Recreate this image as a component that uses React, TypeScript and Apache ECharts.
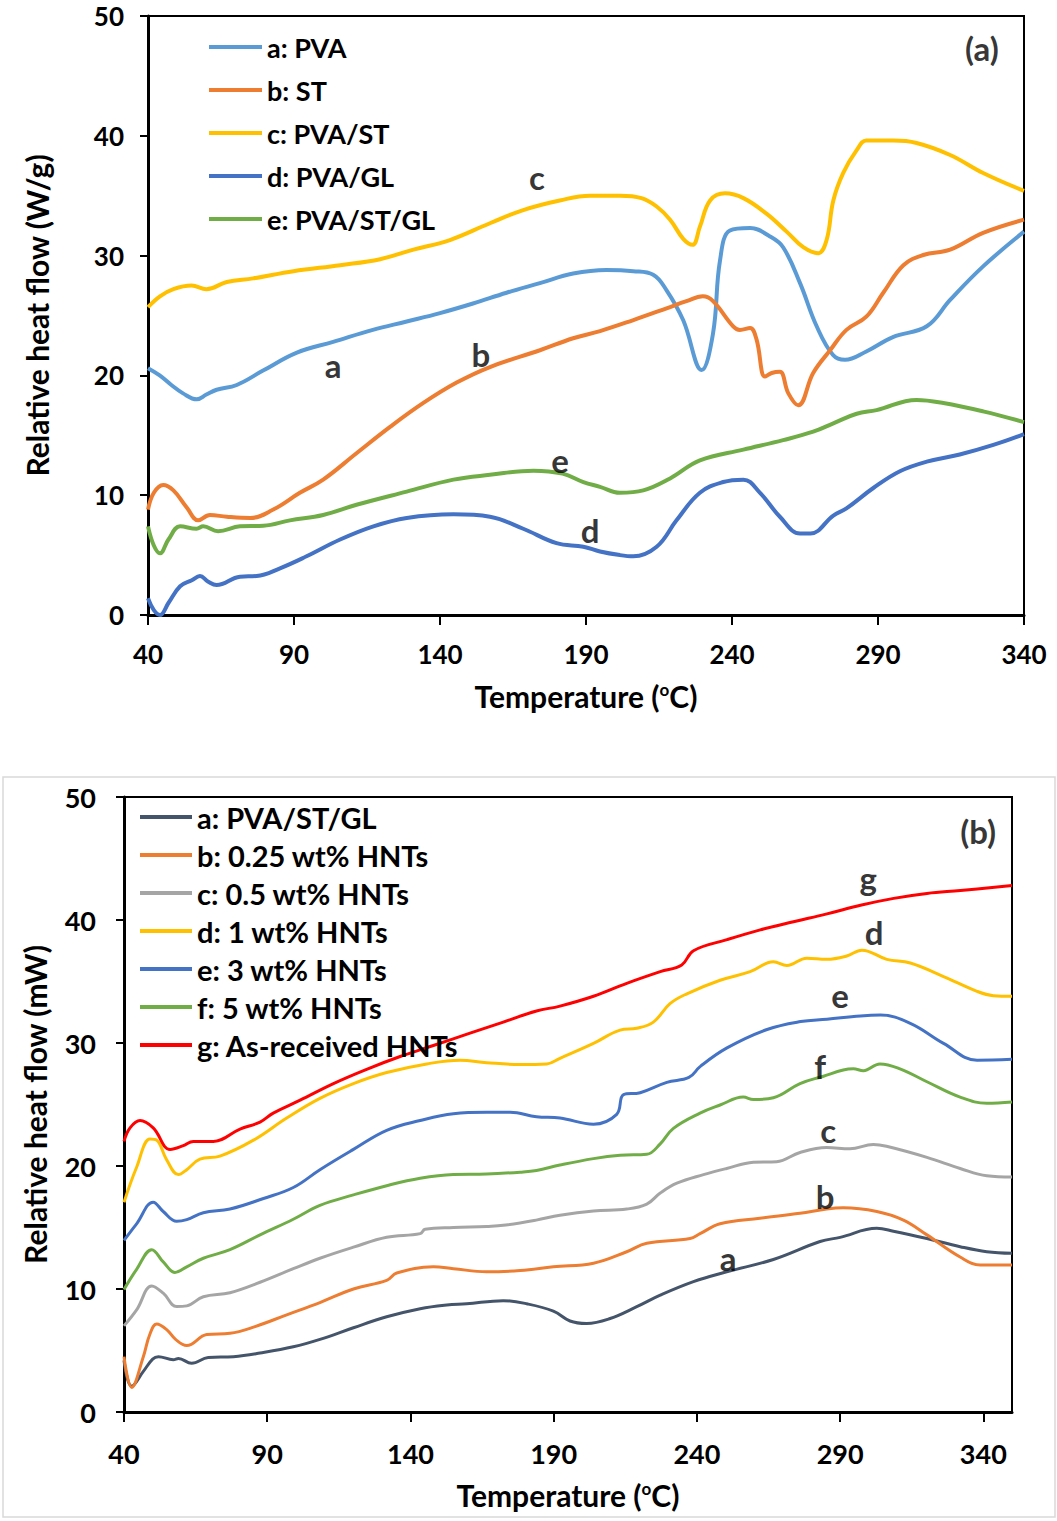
import React, { useEffect, useRef } from "react";
import * as echarts from "echarts";

const FONT = "Lato";

// ---------- Panel (a) ----------
const namesA = ["a: PVA", "b: ST", "c: PVA/ST", "d: PVA/GL", "e: PVA/ST/GL"];
const colorsA = ["#5B9BD5", "#ED7D31", "#FFC000", "#4472C4", "#70AD47"];

const pvaA: number[][] = [[40,20.6],[44,20.0],[48,19.2],[52,18.5],[56.7,18.0],[60,18.4],[63.5,18.8],[70.4,19.2],[79.4,20.4],[91,21.9],[103.4,22.8],[117,23.8],[128.6,24.5],[140,25.2],[151.3,26.0],[162.8,26.9],[174.2,27.7],[185.6,28.5],[197,28.8],[206.2,28.7],[213,28.4],[217.6,27.1],[223.3,24.6],[229.6,20.45],[233.5,23.5],[235.9,29.6],[239.3,32.1],[246.2,32.3],[253,31.6],[257.5,30.7],[263.3,27.7],[269,24.1],[274.6,21.7],[278.7,21.3],[286,22.0],[295.1,23.2],[306.7,24.1],[314.7,26.3],[326,29.1],[340,32.0]];
const stA: number[][] = [[40,8.8],[42,10.2],[45.2,10.85],[48.7,10.4],[53.2,9.0],[57.2,7.9],[61.2,8.35],[67,8.2],[75,8.1],[82.9,8.8],[92,10.2],[100,11.3],[111.4,13.5],[122.9,15.7],[134.3,17.7],[145.7,19.4],[157.1,20.7],[174.2,22.1],[185.6,23.1],[194.8,23.7],[206,24.6],[217.6,25.6],[224.4,26.2],[230,26.6],[233.5,26.2],[240.4,24.1],[242.7,23.8],[246.2,23.95],[248.4,23.0],[251.3,19.9],[253.6,20.2],[256.4,20.3],[259.3,18.5],[262.7,17.5],[267.8,20.2],[273.6,22.1],[279.2,23.8],[286,24.9],[291.8,26.9],[298.7,29.2],[305.5,30.05],[314.7,30.5],[326,31.9],[340,33.0]];
const pvaStA: number[][] = [[40,25.7],[44.1,26.6],[48.7,27.2],[54.9,27.5],[60,27.2],[67,27.8],[76,28.1],[89.8,28.7],[105.8,29.2],[119.5,29.7],[130.9,30.5],[143.4,31.3],[157.1,32.7],[168.5,33.8],[181,34.6],[191.4,35.0],[201.6,35.0],[209,34.8],[214.2,34.1],[218.8,33.0],[223.3,31.4],[226.5,30.9],[229,32.4],[232.5,34.6],[237.6,35.2],[243.9,34.8],[251.8,33.5],[258.7,32.0],[264.4,30.7],[269.5,30.2],[272.4,31.3],[274.7,34.6],[278.1,36.9],[282.7,38.8],[286,39.6],[295.2,39.6],[303.2,39.4],[314.7,38.4],[326,36.9],[340,35.4]];
const pvaGlA: number[][] = [[40,1.4],[42,0.4],[44.1,0],[47,1.0],[51,2.4],[55,2.9],[57.8,3.25],[60.5,2.8],[63.5,2.5],[71.5,3.2],[77.2,3.25],[85.2,3.9],[94.3,4.9],[105.8,6.3],[117.2,7.4],[128.6,8.1],[144.6,8.4],[157.1,8.2],[168.5,7.2],[179.9,6.0],[189.1,5.7],[194.8,5.3],[201.6,5.0],[206.2,4.9],[214.2,5.7],[221,7.9],[229,10.2],[237,11.1],[243.9,11.3],[249.6,10.2],[256.4,8.2],[263.3,6.8],[266.9,6.8],[274.7,8.3],[279.2,8.9],[288.4,10.6],[297.5,12.0],[306.7,12.8],[318,13.4],[329.5,14.2],[340,15.1]];
const pvaStGlA: number[][] = [[40,7.4],[42,5.8],[44.1,5.15],[47,6.3],[51,7.4],[56.6,7.2],[58.9,7.4],[64,7.0],[71.5,7.4],[79.5,7.45],[88.6,7.9],[100,8.35],[111.4,9.2],[128.6,10.3],[144.6,11.3],[157.1,11.7],[172,12.05],[182,11.8],[189.1,11.1],[194.8,10.7],[201.6,10.2],[209.6,10.4],[218.8,11.4],[229,12.9],[243.9,13.8],[257.5,14.6],[267.8,15.3],[274.7,16.0],[282.7,16.8],[289.5,17.1],[303.2,17.95],[312.4,17.7],[326,17.0],[340,16.1]];
const dataA = [pvaA, stA, pvaStA, pvaGlA, pvaStGlA];
const labelsA = [
  { name: "c", value: [173.2, 36.6] },
  { name: "a", value: [103.4, 20.9] },
  { name: "b", value: [154, 21.8] },
  { name: "e", value: [181.1, 12.9] },
  { name: "d", value: [191.4, 7.1] },
  { name: "(a)", value: [325.6, 47.3] },
];

// ---------- Panel (b) ----------
const namesB = ["a: PVA/ST/GL", "b: 0.25 wt% HNTs", "c: 0.5 wt% HNTs", "d: 1 wt% HNTs", "e: 3 wt% HNTs", "f: 5 wt% HNTs", "g: As-received HNTs"];
const colorsB = ["#44546A", "#ED7D31", "#A5A5A5", "#FFC000", "#4472C4", "#70AD47", "#FF0000"];

const bA: number[][] = [[40,4.2],[42.7,2.1],[46.75,3.3],[50,4.3],[52,4.5],[57.2,4.25],[59,4.35],[63.6,3.96],[69.4,4.43],[78.2,4.5],[87.5,4.8],[99.1,5.3],[108.4,5.9],[120.1,6.85],[131.7,7.74],[143.4,8.4],[152.7,8.7],[159.6,8.8],[172.4,9.05],[180.6,8.8],[189.9,8.2],[195.7,7.4],[201.5,7.2],[209.7,7.6],[219,8.56],[227.2,9.5],[238.8,10.6],[250.4,11.4],[266.7,12.4],[283,13.86],[290,14.2],[302.8,14.93],[308.6,14.7],[320.3,14.1],[331.9,13.44],[341.2,13.03],[350,12.9]];
const bB: number[][] = [[40,4.5],[42.7,2.0],[46.75,4.5],[49,6.3],[51.4,7.15],[54.9,6.7],[58,5.9],[61.9,5.4],[68.9,6.3],[77,6.4],[85.2,6.9],[96.8,7.9],[108.4,8.9],[120.1,10.0],[131.7,10.7],[135.2,11.3],[148,11.8],[155,11.65],[166.6,11.4],[178.3,11.5],[189.9,11.8],[203.9,12.1],[215.5,13.03],[222.5,13.72],[237.6,14.1],[241.1,14.5],[248.1,15.3],[262,15.75],[276,16.15],[285.3,16.5],[291.1,16.6],[302.8,16.3],[312.1,15.6],[320.3,14.4],[331.9,12.6],[338.9,11.95],[350,11.95]];
const bC: number[][] = [[40,7.0],[44.4,8.3],[49.7,10.25],[53.7,9.66],[58.4,8.57],[61.9,8.63],[67.7,9.37],[77,9.7],[87.5,10.55],[99.1,11.65],[108.4,12.5],[120.1,13.4],[131.7,14.2],[143.4,14.5],[145.1,14.85],[155,15.0],[166.6,15.08],[173.3,15.2],[183.9,15.6],[192.2,16.0],[203.9,16.35],[215.5,16.5],[222.5,16.9],[227.2,17.8],[233,18.6],[242.3,19.3],[250.4,19.8],[259.7,20.3],[267.8,20.35],[276,21.1],[285.3,21.5],[293.4,21.4],[301.6,21.75],[306.2,21.6],[320.3,20.7],[331.9,19.8],[341.2,19.2],[350,19.1]];
const bD: number[][] = [[40,17.06],[44.4,19.9],[49.1,22.2],[51.4,22.1],[54.9,20.5],[59,19.3],[61.9,19.7],[66.5,20.55],[73.5,20.8],[85.2,22.1],[96.8,23.9],[108.4,25.5],[120.1,26.7],[131.7,27.6],[145.7,28.3],[157.3,28.6],[166.6,28.4],[178.3,28.25],[187.6,28.3],[192.2,28.76],[203.9,29.97],[213.2,31.05],[219,31.2],[224.8,31.7],[230.6,33.2],[236.5,34.0],[248.1,35.1],[258.6,35.8],[266.7,36.6],[271.4,36.3],[278.4,36.9],[285.3,36.8],[292.3,37.07],[297.6,37.55],[306.3,36.8],[314.5,36.5],[326.1,35.4],[337.8,34.2],[343.5,33.85],[350,33.8]];
const bE: number[][] = [[40,13.96],[44.4,15.3],[50.2,17.06],[53.7,16.3],[58.4,15.5],[61.9,15.64],[67.7,16.2],[77,16.5],[88.7,17.36],[99.1,18.25],[108.4,19.7],[120.1,21.35],[131.7,22.9],[143.4,23.7],[155,24.25],[166.6,24.37],[174.8,24.37],[184,24.0],[192.2,23.9],[203.9,23.4],[212,24.2],[214.4,25.8],[220.2,25.96],[229.5,26.8],[237.2,27.2],[241.2,28.1],[250.5,29.6],[264.5,31.1],[276.2,31.74],[285.4,31.93],[297.1,32.2],[304.1,32.27],[314.5,31.6],[326.1,29.97],[337.8,28.6],[350,28.67]];
const bF: number[][] = [[40,9.96],[44.4,11.6],[49.7,13.2],[53.7,12.2],[57.8,11.35],[61.9,11.8],[67.7,12.5],[77,13.2],[87.5,14.4],[99.1,15.67],[108.4,16.8],[120.1,17.65],[131.7,18.4],[143.4,19.0],[155,19.3],[166.6,19.34],[178.3,19.5],[184,19.64],[192.2,20.08],[203.9,20.6],[213.2,20.87],[222.5,20.95],[227.2,21.8],[231.8,23.06],[241.1,24.3],[248.1,24.96],[256.2,25.6],[259.7,25.4],[266.7,25.55],[276,26.7],[284.2,27.3],[291.1,27.8],[294.6,27.9],[298.1,27.75],[303.9,28.3],[310.9,27.9],[320.3,26.85],[331.9,25.6],[341.2,25.1],[350,25.2]];
const bG: number[][] = [[40,22.0],[42.1,23.1],[45.6,23.7],[50.2,23.1],[56.1,21.35],[60.7,21.65],[64.2,22.0],[71.2,22.0],[80.5,23.0],[87.5,23.57],[92.1,24.3],[101.5,25.35],[113.1,26.7],[124.7,27.86],[136.4,28.9],[148,29.8],[160.8,30.8],[172.4,31.7],[184,32.6],[192.2,33.0],[203.9,33.8],[215.5,34.85],[227.2,35.8],[234.7,36.35],[238.8,37.5],[250.5,38.4],[262.1,39.2],[273.7,39.86],[285.4,40.5],[297.1,41.2],[308.7,41.76],[320.3,42.16],[332,42.4],[350,42.8]];
const dataB = [bA, bB, bC, bD, bE, bF, bG];
const labelsB = [
  { name: "g", value: [299.8, 43.4] },
  { name: "d", value: [301.9, 39.0] },
  { name: "e", value: [290, 33.9] },
  { name: "f", value: [283, 28.1] },
  { name: "c", value: [285.8, 22.9] },
  { name: "b", value: [284.8, 17.6] },
  { name: "a", value: [250.9, 12.5] },
  { name: "(b)", value: [338.2, 47.2] },
];

const xTicks = [40, 90, 140, 190, 240, 290, 340];
const yTicks = [0, 10, 20, 30, 40, 50];

const txt = { color: "#000", fontFamily: FONT, fontWeight: "bold" as const };

function xAxis(gridIndex: number, max: number, labelMargin: number, nameGap: number, fs: number, lfs: number) {
  return {
    type: "value",
    gridIndex,
    min: 40,
    max,
    interval: 50,
    name: "Temperature ({sup|o}C)",
    nameLocation: "middle",
    nameGap,
    nameTextStyle: {
      ...txt,
      fontSize: fs,
      rich: { sup: { ...txt, fontSize: Math.round(fs * 0.55), verticalAlign: "top", lineHeight: fs } },
    },
    axisLine: { show: true, onZero: false, lineStyle: { color: "#000", width: 3 } },
    axisTick: { show: true, length: 10, lineStyle: { color: "#000", width: 2 }, customValues: xTicks },
    axisLabel: { ...txt, fontSize: lfs, margin: labelMargin, customValues: xTicks },
    splitLine: { show: false },
  };
}

function yAxis(gridIndex: number, name: string, labelMargin: number, nameGap: number, fs: number, lfs: number) {
  return {
    type: "value",
    gridIndex,
    min: 0,
    max: 50,
    interval: 10,
    name,
    nameLocation: "middle",
    nameGap,
    nameTextStyle: { ...txt, fontSize: fs },
    axisLine: { show: true, onZero: false, lineStyle: { color: "#000", width: 3 } },
    axisTick: { show: true, length: 8, lineStyle: { color: "#000", width: 2 }, customValues: yTicks },
    axisLabel: { ...txt, fontSize: lfs, margin: labelMargin, customValues: yTicks },
    splitLine: { show: false },
  };
}

function labelSeries(xi: number, data: { name: string; value: number[] }[], fs: number) {
  return {
    type: "scatter",
    xAxisIndex: xi,
    yAxisIndex: xi,
    silent: true,
    symbol: "circle",
    symbolSize: 1,
    itemStyle: { color: "rgba(0,0,0,0)" },
    label: { show: true, position: "inside", formatter: "{b}", ...txt, fontSize: fs },
    data,
    z: 5,
  };
}

export default function App() {
  const ref = useRef<HTMLDivElement>(null);
  useEffect(() => {
    document.body.style.margin = "0";
    const chart = echarts.init(ref.current!, null, { renderer: "svg" });
    const series: any[] = [];
    dataA.forEach((d, i) =>
      series.push({
        type: "line",
        name: namesA[i],
        xAxisIndex: 0,
        yAxisIndex: 0,
        data: d,
        smooth: 0.4,
        showSymbol: false,
        symbol: "none",
        lineStyle: { color: colorsA[i], width: 4 },
        itemStyle: { color: colorsA[i] },
      })
    );
    dataB.forEach((d, i) =>
      series.push({
        type: "line",
        name: namesB[i],
        xAxisIndex: 1,
        yAxisIndex: 1,
        data: d,
        smooth: 0.4,
        showSymbol: false,
        symbol: "none",
        lineStyle: { color: colorsB[i], width: 3 },
        itemStyle: { color: colorsB[i] },
      })
    );
    series.push(labelSeries(0, labelsA, 33));
    series.push(labelSeries(1, labelsB, 33));

    chart.setOption({
      animation: false,
      backgroundColor: "#fff",
      graphic: [
        {
          type: "rect",
          shape: { x: 3, y: 777, width: 1052, height: 740 },
          style: { fill: "none", stroke: "#D9D9D9", lineWidth: 1.5 },
          z: -1,
        },
      ],
      grid: [
        { left: 148, top: 16, width: 876, height: 599, show: true, borderColor: "#000", borderWidth: 2, backgroundColor: "transparent" },
        { left: 124, top: 797, width: 888, height: 615, show: true, borderColor: "#000", borderWidth: 2, backgroundColor: "transparent" },
      ],
      xAxis: [xAxis(0, 340, 26, 66, 30, 26), xAxis(1, 350, 28, 68, 30, 27)],
      yAxis: [
        yAxis(0, "Relative heat flow (W/g)", 24, 96, 30, 26),
        yAxis(1, "Relative heat flow (mW)", 28, 74, 30, 27),
      ],
      legend: [
        {
          data: namesA,
          orient: "vertical",
          left: 204,
          top: 28,
          icon: "rect",
          itemWidth: 53,
          itemHeight: 4,
          itemGap: 15,
          textStyle: { ...txt, fontSize: 27, lineHeight: 28 },
          selectedMode: false,
        },
        {
          data: namesB,
          orient: "vertical",
          left: 135,
          top: 797,
          icon: "rect",
          itemWidth: 52,
          itemHeight: 4,
          itemGap: 8,
          textStyle: { ...txt, fontSize: 29, lineHeight: 30 },
          selectedMode: false,
        },
      ],
      series,
    });
    return () => chart.dispose();
  }, []);
  return <div ref={ref} style={{ width: 1057, height: 1521 }} />;
}
